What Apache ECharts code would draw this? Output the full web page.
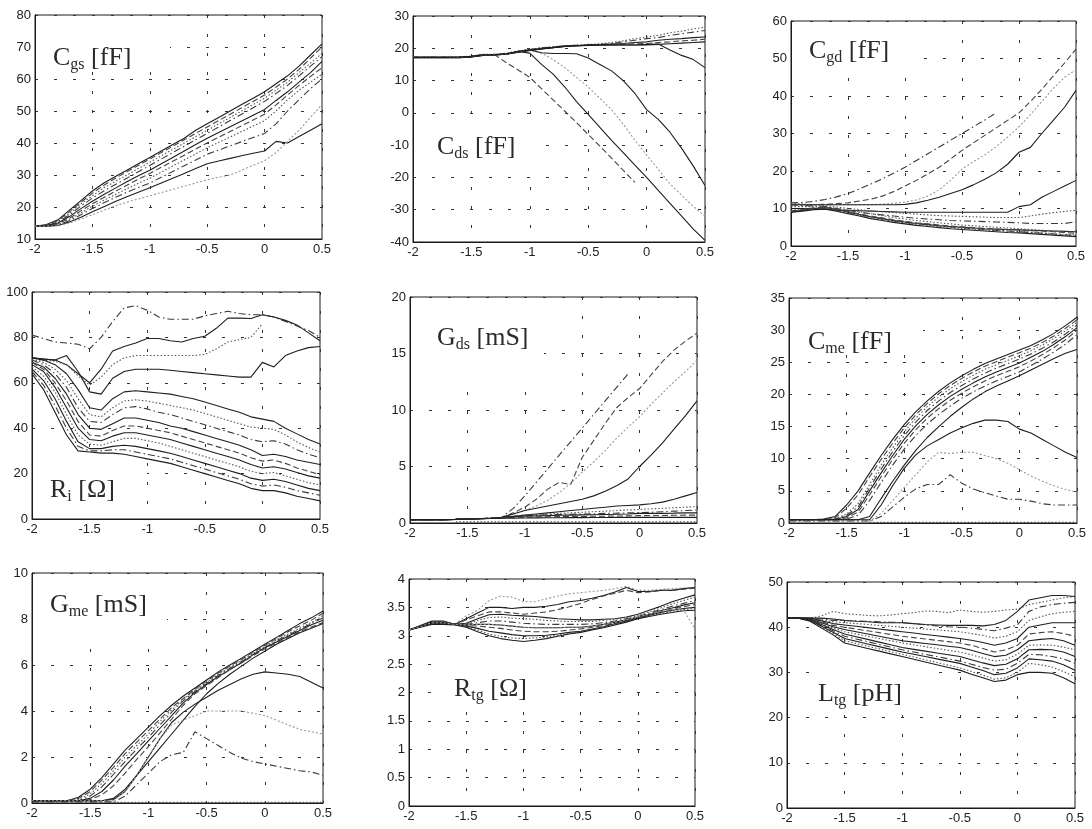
<!DOCTYPE html>
<html><head><meta charset="utf-8">
<script src="https://cdn.jsdelivr.net/npm/echarts@6/dist/echarts.min.js"></script>
<style>html,body{margin:0;padding:0;background:#fff}#c{width:1092px;height:829px}</style>
</head><body><div id="c"></div>
<script>
// gate voltage grid (V)
const VGS = [-2,-1.9,-1.8,-1.7,-1.6,-1.5,-1.4,-1.3,-1.2,-1.1,-1,-0.9,-0.8,-0.7,-0.6,-0.5,-0.4,-0.3,-0.2,-0.1,0,0.1,0.2,0.3,0.4,0.5];
const X_TICKS = [-2,-1.5,-1,-0.5,0,0.5];

const CGS = [
 [14,14.5,16,19,22,25,27.5,29.5,31.5,33.5,35.5,37.5,39.5,41.5,44,46,48,50,52,54,56,58.5,61,64,67.5,71],
 [14,14.4,15.8,18.5,21.5,24.3,26.8,29,31,33,35,37,39,41,43,45,47,49,51,53,55,57.5,60,63,66.5,70],
 [14,14.3,15.5,18,21,23.5,26,28,30,32,34,36,38,40,42,44,46,48,50,52,54,56.5,59,62,65,68],
 [14,14.2,15.3,17.5,20.3,22.8,25,27,29,31,33,35,37,39,41,43,45,47,49,51,53,55.5,58,61,64,67],
 [14,14.1,15,17,19.5,21.8,23.9,25.9,27.9,29.8,31.5,33.5,35.5,37.5,39.5,41.5,43.3,45.1,46.9,48.7,50.5,53.3,56,59,62,65.5],
 [14,14,14.8,16.5,18.8,21,23,24.9,26.8,28.7,30.5,32.4,34.3,36.2,38.1,40,41.8,43.6,45.4,47.2,49,51.9,55,58,60.8,63.5],
 [14,14,14.6,16.1,18.2,20.2,22.1,23.9,25.7,27.4,29,30.9,32.8,34.7,36.6,38.5,40.2,41.9,43.6,45.3,47,50,53.5,56.5,59,61.5],
 [14,14,14.4,15.7,17.6,19.5,21.3,23,24.6,26.1,27.5,29.3,31.1,32.9,34.7,36.5,37.8,39.1,40.4,41.7,43,46,50,53.5,57,60],
 [14,14,14.2,15.3,16.8,18.5,20.1,21.7,23.2,24.6,26,27.5,29,30.5,32,33.5,34.4,35.2,36,36.8,37.5,40.5,40,42,44,46],
 [14,14,14.1,15,16.2,17.6,19,20.3,21.5,22.5,23.5,24.5,25.5,26.5,27.5,28.5,29.3,30,31.5,33,34.5,37,40.5,44,48,52]
];
const CDS = [
 [17.2,17.2,17.2,17.2,17.3,17.6,18.1,18.2,18.5,19.2,19.7,20.2,20.5,20.8,21,21.2,21.4,21.8,22.3,23,23.5,24,24.8,25.3,26,26.5],
 [17.2,17.2,17.2,17.2,17.3,17.5,18,18.1,18.4,19.1,19.6,20.1,20.4,20.7,20.9,21.1,21.2,21.5,22,22.5,23,23.3,24,24.5,25,25.5],
 [17.2,17.2,17.2,17.2,17.3,17.5,18,18,18.3,19,19.5,20,20.3,20.7,20.8,21,21,21.3,21.5,21.8,22,22.5,22.8,23,23.3,23.5],
 [17.2,17.2,17.2,17.2,17.2,17.4,17.9,18,18.2,18.9,19.4,19.9,20.2,20.6,20.8,20.9,21,21.1,21.3,21.4,21.5,21.8,22,22.3,22.5,22.8],
 [17.1,17.1,17.1,17.1,17.1,17.3,17.8,17.9,18.2,18.8,19.3,19.8,20.2,20.6,20.8,20.9,21,21,21,21,21,21.2,21.4,21.6,21.8,22],
 [17.1,17.1,17.1,17.1,17.1,17.3,17.8,17.9,18.2,18.8,19.3,19.8,20.2,20.6,20.8,20.9,21,21,21,21,21.2,21.3,19.5,17.8,16.5,14],
 [17.2,17.2,17.2,17.2,17.3,17.5,18,18,18.3,19,18.5,15,12,8,3.5,-0.5,-4.5,-8.5,-12.3,-16.2,-20,-24,-28,-32,-36,-39.5],
 [17.2,17.2,17.2,17.2,17.3,17.5,18,18,15.5,13.3,11,7.5,4,0.5,-3,-6.7,-10.3,-14,-17.8,-21.5,null,null,null,null,null,null],
 [17.2,17.2,17.2,17.2,17.3,17.5,18,18,18.3,19,19.5,18.5,16.5,14,11,8,4.5,1,-3.5,-8.5,-13,-17.5,-22,-25.5,-29,-32],
 [17.2,17.2,17.2,17.2,17.3,17.5,18,18,18.3,19,19.5,18.6,18.4,18.4,18.3,17,15,13,10,6,1,-2,-6,-11,-16.5,-22.5]
];
const CGD = [
 [11.5,11.6,11.9,12.4,13.1,14,15.2,16.5,17.9,19.4,21,22.8,24.6,26.4,28.2,30,31.8,33.6,35.5,null,null,null,null,null,null,null],
 [11,11,11,11.1,11.3,11.5,12,12.5,13.3,14.5,16,17.5,19.2,21,23.2,25.5,27.5,29.5,31.5,33.5,35.5,38.5,41.8,45.3,48.8,52.5],
 [11,11,11,11,11,11,11,11,11.2,11.4,11.7,12.3,13.3,15,17.5,20.5,22.5,24.3,26.5,29,31.8,35,38.5,42,45,47],
 [11,11,11,11,11,11,11,11,11,11,11.1,11.5,12.2,13,14,15,16.3,17.8,19.5,21.8,25,26.3,30,33.5,37,41.5],
 [10,10,10,9.8,9.6,9.5,9.4,9.3,9.2,9.1,9,9,9,9,9,9,9,9,9,9,10.5,11,13,14.5,16,17.5],
 [11.5,11.2,11,10.8,10.4,10,9.7,9.4,9.1,8.9,8.7,8.5,8.3,8.1,8,7.9,7.8,7.7,7.6,7.6,7.6,8,8.5,8.9,9.2,9.5],
 [11,10.8,10.7,10.5,10,9.5,9,8.6,8.3,8,7.7,7.4,7.2,7,6.8,6.7,6.6,6.5,6.4,6.3,6.2,6,6,6,6,6.5],
 [9,9.5,10,10.2,9.8,9,8.4,7.8,7.3,6.8,6.4,6,5.7,5.4,5.2,5,4.8,4.6,4.5,4.4,4.3,4.2,4.1,4,3.9,3.8],
 [9.2,9.7,10.2,10.4,9.9,9.2,8.6,8,7.5,7,6.6,6.2,5.9,5.6,5.3,5.1,4.9,4.7,4.5,4.4,4.3,4.1,4,3.8,3.6,3.4],
 [9.5,9.8,10,10,9.5,8.8,8.2,7.6,7.1,6.6,6.2,5.8,5.5,5.2,4.9,4.7,4.5,4.3,4.1,4,3.9,3.7,3.5,3.3,3.1,3],
 [9,9.3,9.7,9.8,9.3,8.6,8,7.3,6.8,6.3,5.9,5.5,5.2,4.9,4.6,4.4,4.2,4,3.8,3.6,3.5,3.3,3.1,2.9,2.7,2.5],
 [9.3,9.7,10,10.1,9.6,9,8.4,7.8,7.2,6.7,6.3,6,5.7,5.4,5.1,4.9,4.6,4.4,4.2,4,3.8,3.6,3.4,3.2,3,2.8],
 [10.5,10.5,10.5,10.4,10,9.6,9.1,8.6,8.1,7.6,7.2,6.8,6.5,6.2,5.9,5.6,5.4,5.2,5,4.8,4.6,4.4,4.2,4,3.9,3.8]
];
const RI = [
 [81,79.5,78,77.5,77,75,80,87,93,94,92,89,88,88,88,89.5,90.5,91.5,90.5,90,90,89,87,85,83,80],
 [71,70.5,70,68,64,60,66,74,76,77.5,79.5,79.5,78.5,78,79.5,80.5,84,88.5,88.5,88.3,90,89,87.5,85.5,82,78.5],
 [70,70,69.5,68,63,59,62.5,68,71,72,72,72,72,72,72,72.5,75,78,79,80,86,null,null,null,null,null],
 [71,70.5,70,72,65,56,55,62,65,66,66,66,65.5,65,64.5,64,63.5,63,62.5,62.5,69,67,72,74,75.5,76],
 [71,70,68,64,57,49,48,53,56,56.5,56,55.5,55,54,53,51.5,50,48.5,47,45,44,43,40,37.5,35,33],
 [70,69,66,61,53,46,45,49,52,52.5,52,51,50,49,48,46.5,45,43.5,42,40.5,40,39.5,37,34,31.5,29.5],
 [70,68,64,58,49,43,42.5,46,49,49.5,48.5,47,46,44.5,43,41.5,40,38.5,37,35,34,34.5,33,30.5,28.5,27],
 [69,67,62,55,46,40,39.5,42,44.5,44.5,43.5,42.5,41,40,38.5,37,35.5,34,32.5,30.5,28,28.5,27.5,26,25,24],
 [69,66,60,52,43,37,36.5,39,41,41,40,39,38,36.5,35,33.5,32,30.5,29,27,25.5,26,24.5,22.5,21,19.5],
 [68,65,58,49,40,35,34.5,36.5,38,38,37,36,35,33.5,32,30.5,29,27.5,26,24,22.5,23,22,20.5,19,18],
 [67,63,56,46,37,33,32.5,34,35.5,35.5,34.5,33.5,32,30.5,29,27.5,26,24.5,23,21,20,20.5,19,17.5,16,15],
 [66,61,53,43,34,31,31,32,32.5,32,31,30,29,27.5,26,24.5,23,21.5,20,18,17,17.5,16.5,15,13.5,12.5],
 [65,59,50,40,32,30,30,30.5,30.5,29.5,28.5,27.5,26.5,25,23.5,22,20.5,19,17.5,15.5,14.5,15,14,12.5,11.5,10.5],
 [64,57,47,37,30,29.5,29,29,28.5,27.5,26.5,25.5,24.5,23,21.5,20,18.5,17,15.5,13.5,12.5,12.5,11.5,10,9,8]
];
const GDS = [
 [0.3,0.3,0.3,0.3,0.32,0.35,0.38,0.42,0.5,1.3,2.4,3.6,4.8,6,7.2,8.4,9.6,10.8,12,13.2,null,null,null,null,null,null],
 [0.3,0.3,0.3,0.3,0.32,0.35,0.38,0.42,0.5,0.9,1.4,2.1,3,3.6,3.4,5.8,7.3,8.8,10.2,11.1,11.9,13.1,14.3,15.3,16.1,16.8],
 [0.3,0.3,0.3,0.3,0.32,0.35,0.38,0.42,0.5,0.8,1.1,1.5,2,2.7,3.5,4.5,5.4,6.4,7.5,8.5,9.4,10.5,11.5,12.5,13.4,14.4],
 [0.3,0.3,0.3,0.3,0.32,0.35,0.38,0.42,0.5,0.8,1.1,1.3,1.5,1.7,1.9,2.1,2.4,2.8,3.3,3.9,5,6,7.1,8.3,9.5,10.8],
 [0.3,0.3,0.3,0.3,0.32,0.35,0.38,0.42,0.48,0.6,0.7,0.8,0.9,1,1.1,1.2,1.3,1.4,1.5,1.55,1.6,1.7,1.85,2.1,2.4,2.7],
 [0.3,0.3,0.3,0.3,0.32,0.35,0.38,0.42,0.48,0.6,0.7,0.75,0.8,0.85,0.9,0.95,1,1.05,1.1,1.15,1.2,1.25,1.3,1.35,1.4,1.45],
 [0.3,0.3,0.3,0.3,0.32,0.35,0.38,0.42,0.48,0.58,0.65,0.7,0.72,0.75,0.78,0.8,0.82,0.85,0.87,0.9,0.92,0.95,1,1.05,1.1,1.15],
 [0.3,0.3,0.3,0.3,0.32,0.35,0.38,0.42,0.48,0.55,0.6,0.63,0.65,0.68,0.7,0.72,0.73,0.75,0.77,0.8,0.85,0.85,0.85,0.87,0.9,0.9],
 [0.3,0.3,0.3,0.3,0.32,0.35,0.38,0.42,0.45,0.5,0.52,0.53,0.55,0.56,0.57,0.58,0.6,0.6,0.62,0.63,0.65,0.66,0.67,0.68,0.7,0.7],
 [0.3,0.3,0.3,0.3,0.32,0.35,0.38,0.4,0.42,0.43,0.44,0.45,0.46,0.47,0.48,0.48,0.49,0.49,0.5,0.5,0.5,0.5,0.5,0.5,0.5,0.5],
 [null,null,null,null,0.1,0.1,0.1,0.1,0.1,0.1,0.1,0.1,0.1,0.1,0.1,0.1,0.1,0.1,0.1,0.1,0.1,0.1,0.1,0.1,0.1,0.1]
];
const CME = [
 [0.5,0.5,0.5,0.6,1,2.8,5,7.8,10.5,13,15.3,17.3,19,20.5,21.8,22.9,23.9,24.8,25.5,26.2,26.9,27.6,28.5,29.5,30.7,32],
 [0.5,0.5,0.5,0.5,0.8,2.3,4.4,7.2,9.9,12.4,14.8,16.8,18.6,20.1,21.4,22.5,23.5,24.4,25.1,25.8,26.5,27.2,28.1,29.1,30.3,31.6],
 [0.5,0.5,0.5,0.5,0.7,1.4,3,6,9,11.7,14.2,16.3,18.1,19.6,20.9,22,23,23.9,24.6,25.3,26,26.8,27.7,28.7,29.9,31.2],
 [0.5,0.5,0.5,0.5,0.6,1.2,2.5,5.5,8.4,11.1,13.6,15.7,17.5,19,20.3,21.4,22.4,23.3,24.1,24.8,25.5,26.3,27.2,28.2,29.4,30.8],
 [0.5,0.5,0.5,0.5,0.5,1,2.1,5,7.8,10.5,13,15.1,16.9,18.4,19.7,20.8,21.8,22.7,23.5,24.2,24.9,25.8,26.7,27.8,29,30.4],
 [0.5,0.5,0.5,0.5,0.5,0.8,1.7,4.4,7.2,9.9,12.4,14.5,16.3,17.8,19.1,20.2,21.2,22.1,22.9,23.6,24.3,25.2,26.2,27.3,28.5,30],
 [0.5,0.5,0.5,0.5,0.5,0.6,1.2,3.5,6.3,9,11.5,13.6,15.4,16.9,18.2,19.4,20.4,21.3,22.1,22.8,23.5,24.5,25.5,26.6,27.8,29.3],
 [0.5,0.5,0.5,0.5,0.5,0.5,0.5,1,3.8,6.5,9,11.3,13.3,15,16.6,18,19.3,20.4,21.3,22.1,22.9,23.8,24.7,25.6,26.4,27],
 [0.5,0.5,0.5,0.5,0.5,0.5,0.5,0.5,2.8,5.8,8.5,10.6,12,13,14,14.8,15.5,16,16,15.8,14.6,14,13,12,11,10.2],
 [0.3,0.3,0.3,0.3,0.3,0.3,0.3,0.3,1.5,3.5,5.5,7.5,9.5,11,10.8,11,11,10.5,10,9.3,8.3,7.3,6.5,5.8,5.2,4.8],
 [0.3,0.3,0.3,0.3,0.3,0.3,0.3,0.3,1,2.5,4,5.3,6,6,7.5,6.2,5.3,4.7,4.2,3.7,3.7,3.4,3,2.8,2.8,2.8],
 [null,null,null,null,null,null,null,0.1,0.1,0.1,0.1,0.1,0.1,0.1,0.1,0.1,0.1,0.1,0.1,0.1,0.1,0.1,0.1,0.1,0.1,0.1]
];
const GME = [
 [0.1,0.1,0.1,0.1,0.25,0.6,1.1,1.7,2.3,2.8,3.3,3.8,4.25,4.65,5,5.35,5.7,6,6.3,6.6,6.9,7.2,7.5,7.8,8.05,8.35],
 [0.1,0.1,0.1,0.1,0.2,0.5,1,1.55,2.15,2.65,3.15,3.65,4.15,4.55,4.95,5.3,5.65,5.95,6.25,6.55,6.85,7.15,7.45,7.7,7.95,8.25],
 [0.1,0.1,0.1,0.1,0.15,0.4,0.85,1.4,2,2.5,3,3.55,4.05,4.5,4.9,5.25,5.6,5.9,6.2,6.5,6.8,7.1,7.35,7.6,7.85,8.15],
 [0.1,0.1,0.1,0.1,0.1,0.3,0.7,1.25,1.8,2.35,2.85,3.4,3.95,4.45,4.85,5.2,5.55,5.85,6.15,6.45,6.75,7.05,7.3,7.55,7.8,8.05],
 [0.1,0.1,0.1,0.1,0.1,0.2,0.5,1,1.6,2.15,2.7,3.25,3.8,4.35,4.8,5.15,5.5,5.8,6.1,6.45,6.75,7,7.25,7.5,7.75,7.95],
 [0.1,0.1,0.1,0.1,0.1,0.15,0.35,0.75,1.3,1.9,2.45,3.05,3.65,4.25,4.75,5.1,5.45,5.8,6.1,6.4,6.7,6.95,7.2,7.45,7.65,7.85],
 [0.1,0.1,0.1,0.1,0.1,0.1,0.1,0.2,0.6,1.2,1.8,2.4,3,3.6,4.2,4.75,5.2,5.6,5.95,6.3,6.6,6.9,7.15,7.4,7.6,7.8],
 [0.1,0.1,0.1,0.1,0.1,0.1,0.1,0.15,0.5,1.2,2,2.8,3.5,3.95,4.3,4.6,4.9,5.15,5.4,5.6,5.7,5.65,5.6,5.5,5.25,5],
 [0.1,0.1,0.1,0.1,0.1,0.1,0.1,0.1,0.5,1.2,2,2.8,3.4,3.6,3.8,4,4,4,4,3.9,3.8,3.6,3.4,3.2,3.1,3],
 [0.05,0.05,0.05,0.05,0.05,0.05,0.05,0.05,0.3,0.8,1.3,1.8,2.1,2.2,3.1,2.8,2.5,2.2,1.95,1.8,1.7,1.6,1.5,1.4,1.35,1.2],
 [null,null,null,null,null,null,null,0.03,0.03,0.03,0.03,0.03,0.03,0.03,0.03,0.03,0.03,0.03,0.03,0.03,0.03,0.03,0.03,0.03,0.03,0.03]
];
const RTG = [
 [3.1,3.18,3.25,3.25,3.2,3.35,3.45,3.62,3.7,3.68,3.6,3.6,3.65,3.7,3.74,3.76,3.78,3.8,3.83,3.87,3.8,3.8,3.82,3.83,3.84,3.85],
 [3.1,3.18,3.26,3.26,3.2,3.3,3.4,3.5,3.5,3.48,3.5,3.5,3.52,3.55,3.6,3.62,3.66,3.71,3.77,3.85,3.78,3.78,3.8,3.8,3.83,3.85],
 [3.1,3.17,3.24,3.24,3.2,3.28,3.35,3.42,3.42,3.4,3.38,3.4,3.42,3.46,3.51,3.57,3.64,3.7,3.75,3.8,3.76,3.77,3.8,3.8,3.82,3.84],
 [3.1,3.17,3.24,3.24,3.2,3.22,3.3,3.37,3.38,3.36,3.35,3.34,3.32,3.3,3.29,3.28,3.28,3.29,3.3,3.33,3.38,3.45,3.52,3.6,3.66,3.72],
 [3.1,3.17,3.24,3.24,3.2,3.21,3.27,3.32,3.33,3.31,3.3,3.29,3.27,3.26,3.25,3.25,3.25,3.27,3.29,3.32,3.36,3.42,3.49,3.56,3.62,3.68],
 [3.1,3.17,3.23,3.23,3.2,3.2,3.23,3.26,3.26,3.24,3.22,3.21,3.2,3.2,3.2,3.2,3.21,3.23,3.26,3.3,3.34,3.4,3.46,3.52,3.57,3.62],
 [3.1,3.16,3.23,3.23,3.2,3.19,3.2,3.2,3.19,3.17,3.15,3.14,3.14,3.14,3.15,3.15,3.17,3.2,3.24,3.28,3.33,3.38,3.44,3.49,3.54,3.58],
 [3.1,3.16,3.22,3.22,3.2,3.18,3.17,3.15,3.13,3.1,3.08,3.07,3.07,3.08,3.1,3.12,3.15,3.18,3.22,3.27,3.32,3.37,3.42,3.47,3.51,3.55],
 [3.1,3.16,3.22,3.22,3.2,3.17,3.13,3.08,3.05,3.02,3,3,3.01,3.03,3.06,3.08,3.12,3.16,3.21,3.26,3.31,3.36,3.41,3.45,3.48,3.5],
 [3.1,3.15,3.21,3.21,3.2,3.16,3.1,3.03,2.99,2.96,2.95,2.96,2.98,3.01,3.04,3.07,3.11,3.15,3.2,3.25,3.3,3.35,3.39,3.43,3.46,3.48],
 [3.1,3.15,3.2,3.2,3.19,3.15,3.07,3,2.95,2.92,2.9,2.92,2.95,2.99,3.03,3.06,3.1,3.14,3.19,3.24,3.3,3.34,3.38,3.41,3.44,3.45],
 [3.1,3.16,3.23,3.23,3.2,3.19,3.2,3.2,3.19,3.17,3.15,3.14,3.14,3.14,3.15,3.15,3.17,3.2,3.24,3.28,3.33,3.38,3.43,3.47,3.45,3.12]
];
const LTG = [
 [42,42,42,42.5,43.5,43,42.8,42.6,42.5,42.7,43,43.2,43.6,43.5,43.2,43.8,43.5,43.3,43.5,43.8,44,45,45.5,46,46.5,46.8],
 [42,42,42,42,41.8,41.5,41.3,41.2,41,41,41,40.8,40.6,40.5,40.4,40.4,40.4,40.3,40.6,41.5,43.5,46,46.5,47,47,46.8],
 [42,42,42,41.8,41.5,41.5,41.4,41.3,41.2,41.1,41,40.8,40.5,40.3,40.1,40,39.8,39.5,39.2,39.8,40.5,43.5,44.5,45,45.3,45.5],
 [42,42,42,41.6,41.2,41,40.8,40.6,40.4,40.2,40,39.8,39.6,39.4,39.2,39,38.6,38.2,37.6,38,39,41.5,42.3,43,43.3,43.5],
 [42,42,42,41.4,40.8,40.5,40.2,39.9,39.6,39.3,39,38.7,38.4,38.1,37.8,37.5,37.1,36.6,36,36.5,37.5,40,40.5,41,41,41],
 [42,42,42,41.2,40.4,40,39.6,39.2,38.8,38.4,38,37.7,37.4,37.1,36.8,36.5,36,35.3,34.5,35,36,38.5,38.8,39,38.6,38],
 [42,42,41.8,41,40.1,39.5,39,38.5,38,37.5,37,36.7,36.4,36.1,35.8,35.5,34.9,34.2,33.5,33.8,35,37,37.3,37.5,37,36],
 [42,42,41.8,40.8,39.8,39,38.5,38,37.5,37,36.5,36.1,35.7,35.3,34.9,34.5,33.9,33.2,32.5,32.8,34,36,36.1,36,35.6,35],
 [42,42,41.7,40.6,39.5,38.5,37.9,37.3,36.7,36.1,35.5,35.1,34.7,34.3,33.9,33.5,32.8,32.1,31.5,31.8,33,35,35.1,35,34.5,33.5],
 [42,42,41.6,40.4,39.2,38,37.4,36.8,36.2,35.6,35,34.5,34,33.5,33,32.5,31.8,31.1,30.5,30.7,32,34,33.9,33.5,33,32],
 [42,42,41.5,40.2,38.9,37.5,36.9,36.3,35.7,35.1,34.5,34,33.5,33,32.5,32,31.2,30.4,29.5,29.8,31,33,32.8,32.5,31.7,30.5],
 [42,42,41.4,40,38.6,37,36.4,35.8,35.2,34.6,34,33.4,32.8,32.2,31.6,31,30.2,29.4,28.5,28.8,30,32,31.7,31.2,30.2,29],
 [42,42,41.3,39.8,38.3,36.5,35.9,35.3,34.7,34.1,33.5,32.9,32.3,31.7,31.1,30.5,29.6,28.8,28,28.3,29.5,30,30,29.8,28.8,27.5]
];

// line style codes
const STY = {
  s: {color:'#1e1e1e', type:'solid'},
  d: {color:'#444', type:[6,3]},
  o: {color:'#555', type:[1.5,2]},
  a: {color:'#3a3a3a', type:[7,3,1.5,3]},
  g: {color:'#999', type:[2,2]}
};

const panels = [
  {d:CGS, y:[10,80,10], g:[35,15,287,224], st:'sdoasdoasg', t:['C','gs',' [fF]'], tp:[53,43], box:[36,16,134,56]},
  {d:CDS, y:[-40,30,10], g:[413,16,292,226], st:'oasdsssdgs', t:['C','ds',' [fF]'], tp:[437,132], box:[414,118,127,54]},
  {d:CGD, y:[0,60,10], g:[791,21,285,225], st:'adgssoasdosao', t:['C','gd',' [fF]'], tp:[809,36], box:[792,22,116,56]},
  {d:RI, y:[0,100,20], g:[32,292,288,227], st:'asossoasdsosas', t:['R','i',' [Ω]'], tp:[50,475], box:[33,452,114,66]},
  {d:GDS, y:[0,20,5], g:[410,297,287,226], st:'adgssoasdso', t:['G','ds',' [mS]'], tp:[437,323], box:[411,298,133,82]},
  {d:CME, y:[0,35,5], g:[789,298,288,225], st:'sdoasdassgao', t:['C','me',' [fF]'], tp:[808,327], box:[790,299,133,47]},
  {d:GME, y:[0,10,2], g:[32,573,291,230], st:'sdoasdssgao', t:['G','me',' [mS]'], tp:[50,590], box:[33,574,134,66]},
  {d:RTG, y:[0,4,0.5], g:[409,579,286,227], st:'gsdsoasdsosg', t:['R','tg',' [Ω]'], tp:[454,674], box:[431,650,130,62]},
  {d:LTG, y:[0,50,10], g:[787,582,288,226], st:'osaosdsosasos', t:['L','tg',' [pH]'], tp:[818,679], box:[815,650,110,58]}
];

const grids = [], xAxes = [], yAxes = [], series = [], graphics = [];
const labelStyle = {color:'#222', fontSize:13, fontFamily:'Liberation Sans, Arial, sans-serif'};
const gridLine = {show:true, lineStyle:{color:'#333', width:1, type:[3,16]}};
panels.forEach((p, i) => {
  grids.push({left:p.g[0], top:p.g[1], width:p.g[2], height:p.g[3], show:true,
    borderColor:'#1a1a1a', borderWidth:1, backgroundColor:'transparent', containLabel:false, outerBoundsMode:'none'});
  xAxes.push({type:'value', gridIndex:i, min:X_TICKS[0], max:X_TICKS[X_TICKS.length-1], interval:0.5,
    axisLine:{show:true, onZero:false, lineStyle:{color:'#1a1a1a'}}, axisTick:{show:false},
    axisLabel:Object.assign({margin:4}, labelStyle), splitLine:gridLine});
  yAxes.push({type:'value', gridIndex:i, min:p.y[0], max:p.y[1], interval:p.y[2],
    axisLine:{show:true, onZero:false, lineStyle:{color:'#1a1a1a'}}, axisTick:{show:false},
    axisLabel:Object.assign({margin:4}, labelStyle), splitLine:gridLine});
  p.d.forEach((arr, j) => {
    const s = STY[p.st[j] || 's'];
    series.push({type:'line', xAxisIndex:i, yAxisIndex:i, symbol:'none', showSymbol:false,
      silent:true, animation:false, clip:true, z:2,
      lineStyle:{width:1.1, color:s.color, type:s.type},
      data: VGS.map((x,k) => arr[k] == null ? null : [x, arr[k]]).filter(v => v)});
  });
  graphics.push({type:'rect', z:1, silent:true, shape:{x:p.box[0], y:p.box[1], width:p.box[2], height:p.box[3]}, style:{fill:'#fff'}});
  graphics.push({type:'text', z:5, silent:true, x:p.tp[0], y:p.tp[1], style:{
    text:'{m|'+p.t[0]+'}{s|'+p.t[1]+'}{m|'+p.t[2]+'}', verticalAlign:'top', align:'left',
    rich:{
      m:{fontSize:26, lineHeight:30, fontFamily:'Liberation Serif, Times New Roman, serif', fill:'#2a2a2a'},
      s:{fontSize:16, lineHeight:14, verticalAlign:'bottom', fontFamily:'Liberation Serif, Times New Roman, serif', fill:'#2a2a2a'}
    }}});
});

const chart = echarts.init(document.getElementById('c'), null, {renderer:'canvas'});
chart.setOption({animation:false, backgroundColor:'#fff', grid:grids, xAxis:xAxes, yAxis:yAxes, series:series, graphic:graphics});
</script></body></html>
